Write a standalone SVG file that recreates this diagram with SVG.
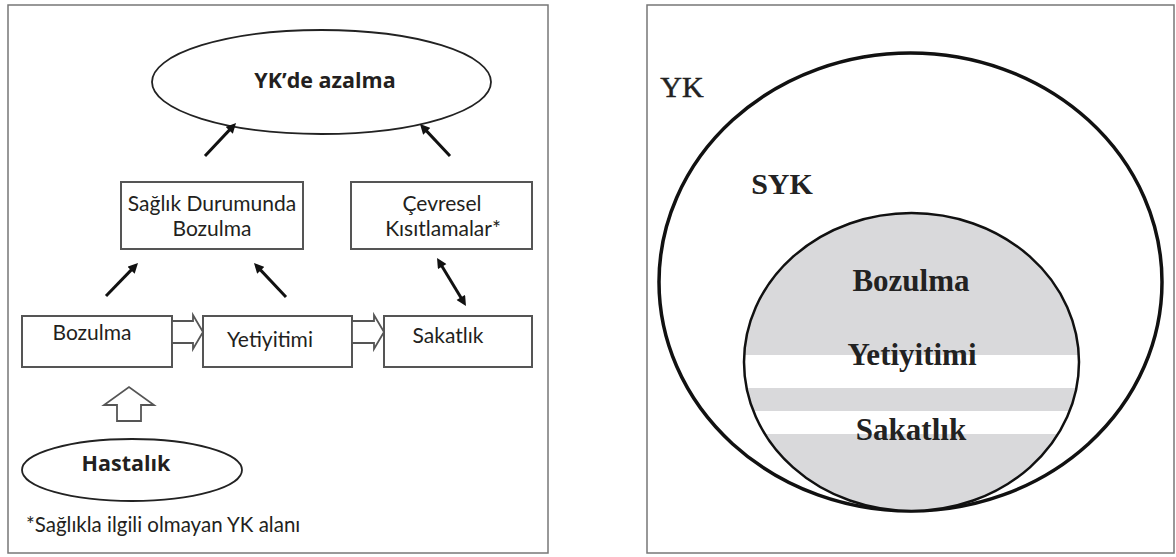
<svg xmlns="http://www.w3.org/2000/svg" width="1176" height="557" viewBox="0 0 1176 557">
<style>
.frame{fill:#fff;stroke:#777;stroke-width:1.5}
.box{fill:#fff;stroke:#555;stroke-width:2}
.ell{fill:#fff;stroke:#222;stroke-width:1.8}
.lbl{font-family:Lato,"Open Sans",sans-serif;font-size:21px;fill:#231f20;text-anchor:middle}
.big{font-family:"Open Sans","Noto Sans",sans-serif;font-size:21.5px;font-weight:700;fill:#231f20;text-anchor:middle}
.arr{stroke:#111;stroke-width:3;fill:none}
.hol{fill:#fff;stroke:#555;stroke-width:1.8;stroke-linejoin:miter}
.ser{font-family:"Liberation Serif","Times New Roman",serif;fill:#222;text-anchor:middle}
</style>
<defs>
<marker id="ah" viewBox="0 0 10 10" refX="6" refY="5" markerWidth="11" markerHeight="10" markerUnits="userSpaceOnUse" orient="auto-start-reverse">
<path d="M0,0 L10,5 L0,10 z" fill="#111"/>
</marker>
<clipPath id="innerClip"><ellipse cx="911.5" cy="362" rx="167.5" ry="149"/></clipPath>
</defs>
<rect width="1176" height="557" fill="#fff"/>

<!-- Left panel -->
<rect id="leftFrame" class="frame" x="8" y="5" width="540" height="548"/>

<g id="node-ykde-azalma">
<ellipse class="ell" cx="321.5" cy="82" rx="169.5" ry="52"/>
<text class="big" x="325" y="88">YK’de azalma</text>
</g>

<g id="node-saglik">
<rect class="box" x="121" y="182" width="182" height="67"/>
<text class="lbl" x="212" y="211">Sağlık Durumunda</text>
<text class="lbl" x="212" y="236">Bozulma</text>
</g>

<g id="node-cevresel">
<rect class="box" x="351" y="182" width="181" height="67"/>
<text class="lbl" x="442" y="211">Çevresel</text>
<text class="lbl" x="443" y="236">Kısıtlamalar*</text>
</g>

<g id="node-bozulma">
<rect class="box" x="22" y="316" width="150" height="51"/>
<text class="lbl" x="92" y="340">Bozulma</text>
</g>

<g id="node-yetiyitimi">
<rect class="box" x="203" y="316" width="149" height="51"/>
<text class="lbl" x="270" y="347">Yetiyitimi</text>
</g>

<g id="node-sakatlik">
<rect class="box" x="384" y="316" width="148" height="51"/>
<text class="lbl" x="448" y="343">Sakatlık</text>
</g>

<g id="node-hastalik">
<ellipse class="ell" cx="132" cy="470" rx="110" ry="31"/>
<text class="big" x="126" y="471">Hastalık</text>
</g>

<g id="connectors">
<line class="arr" x1="205" y1="156" x2="233.3" y2="125.9" marker-end="url(#ah)"/>
<line class="arr" x1="450" y1="156" x2="422.7" y2="126.9" marker-end="url(#ah)"/>
<line class="arr" x1="106" y1="296" x2="135.2" y2="265.9" marker-end="url(#ah)"/>
<line class="arr" x1="286" y1="297" x2="256.7" y2="265.9" marker-end="url(#ah)"/>
<line class="arr" x1="439.1" y1="261.4" x2="463.9" y2="302.6" marker-start="url(#ah)" marker-end="url(#ah)"/>
<polygon class="hol" points="172,321 193,321 193,315 203,332 193,349 193,343 172,343"/>
<polygon class="hol" points="352,321 374,321 374,315 384,332 374,349 374,343 352,343"/>
<polygon class="hol" points="117,421 117,405 104,405 129,387 154,405 141,405 141,421"/>
</g>

<text id="footnote" class="lbl" x="26" y="532" style="text-anchor:start;font-size:20.5px">*Sağlıkla ilgili olmayan YK alanı</text>

<!-- Right panel -->
<rect id="rightFrame" class="frame" x="647" y="5" width="527" height="548"/>

<g id="outer-yk">
<ellipse cx="910.5" cy="282" rx="251.5" ry="229" fill="none" stroke="#111" stroke-width="3.5"/>
<text class="ser" x="682" y="97" style="font-size:30px;stroke:#222;stroke-width:0.5">YK</text>
<text class="ser" x="782" y="194" style="font-size:30px;font-weight:700">SYK</text>
</g>

<g id="inner-circle">
<g clip-path="url(#innerClip)">
<rect x="740" y="210" width="345" height="305" fill="#d9d9db"/>
<rect x="740" y="355" width="345" height="33" fill="#fff"/>
<rect x="740" y="411" width="345" height="23" fill="#fff"/>
</g>
<ellipse cx="911.5" cy="362" rx="167.5" ry="149" fill="none" stroke="#111" stroke-width="2.5"/>
<text class="ser" x="911" y="291" style="font-size:31px;font-weight:700">Bozulma</text>
<text class="ser" x="912" y="365" style="font-size:31px;font-weight:700">Yetiyitimi</text>
<text class="ser" x="911" y="440" style="font-size:31px;font-weight:700">Sakatlık</text>
</g>
</svg>
